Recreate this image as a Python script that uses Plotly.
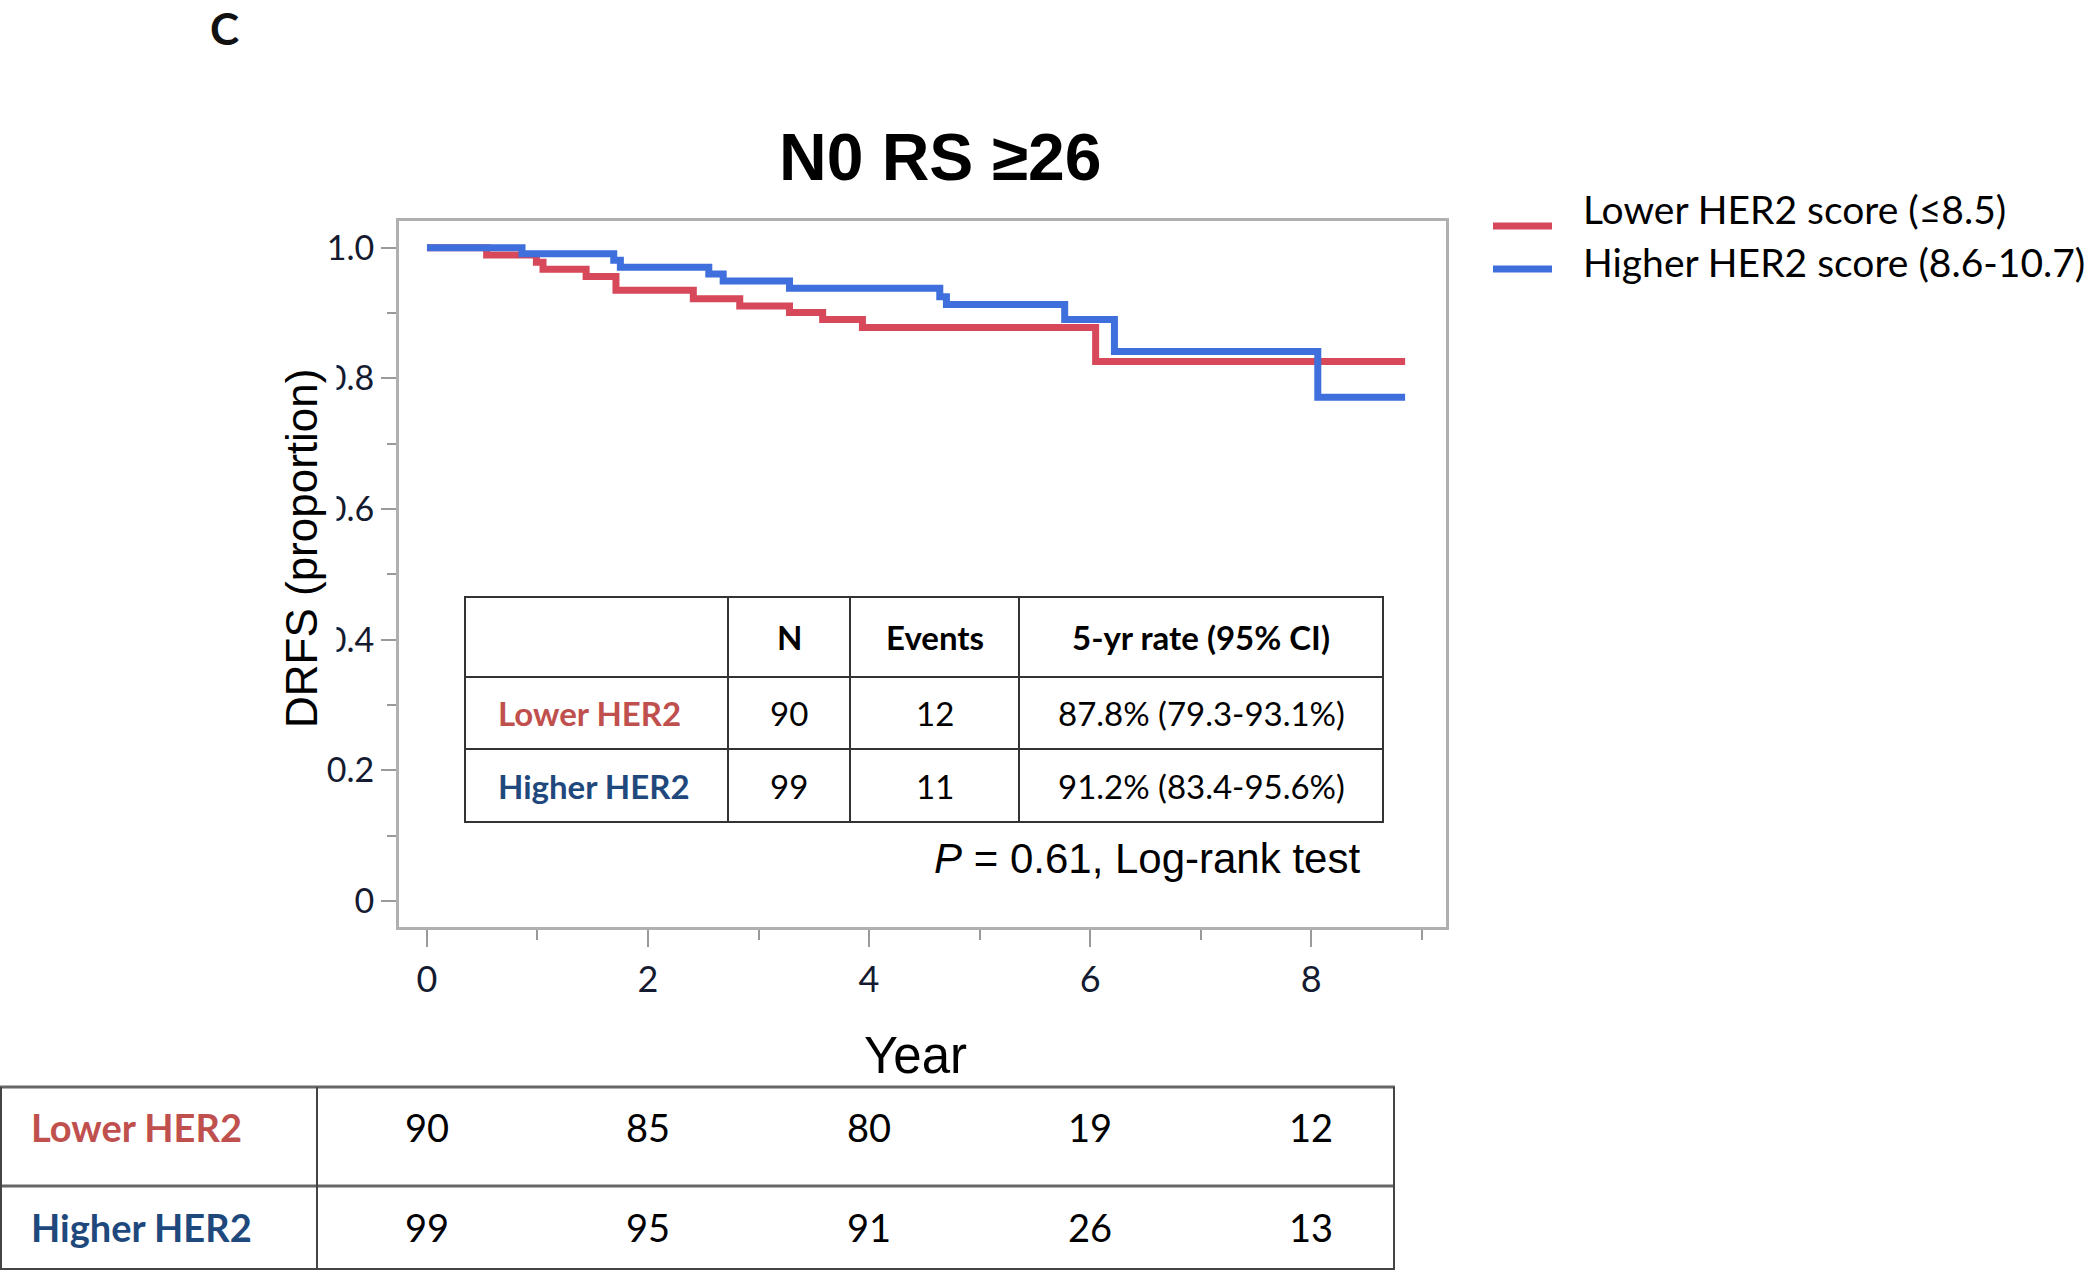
import plotly.graph_objects as go

W, H = 2100, 1271

# Kaplan-Meier step data
lower_time = [0, 0.54, 0.99, 1.05, 1.44, 1.71, 2.41, 2.83, 3.28, 3.58, 3.94, 6.05, 8.85]
lower_surv = [1.0, 0.989, 0.978, 0.967, 0.956, 0.935, 0.922, 0.911, 0.901, 0.890, 0.878, 0.826, 0.826]
higher_time = [0, 0.86, 1.69, 1.75, 2.55, 2.68, 3.28, 4.64, 4.70, 5.77, 6.22, 8.06, 8.85]
higher_surv = [1.0, 0.991, 0.981, 0.970, 0.960, 0.949, 0.938, 0.925, 0.913, 0.890, 0.841, 0.771, 0.771]

group_names = ["Lower HER2 score (≤8.5)", "Higher HER2 score (8.6-10.7)"]
short_names = ["Lower HER2", "Higher HER2"]

# summary table
summary_header = ["", "N", "Events", "5-yr rate (95% CI)"]
summary_n = [90, 99]
summary_events = [12, 11]
summary_rate = ["87.8% (79.3-93.1%)", "91.2% (83.4-95.6%)"]

# number at risk
risk_years = [0, 2, 4, 6, 8]
risk_lower = [90, 85, 80, 19, 12]
risk_higher = [99, 95, 91, 26, 13]

x_ticks = [0, 2, 4, 6, 8]
y_ticks = [0, 0.2, 0.4, 0.6, 0.8, 1.0]
y_ticktext = ["0", "0.2", "0.4", "0.6", "0.8", "1.0"]

RED = "#d6485a"
BLUE = "#3e6fdc"
LABEL_RED = "#c0504d"
LABEL_BLUE = "#1f497d"
CALIBRI = "Lato, 'Open Sans', sans-serif"
ARIAL = "'Liberation Sans', Arial, sans-serif"


def px(x):
    return x / W


def py(y):
    return 1 - y / H


fig = go.Figure()
fig.add_trace(go.Scatter(x=lower_time, y=lower_surv, mode="lines", line_shape="hv",
                         line=dict(color=RED, width=7), name=group_names[0]))
fig.add_trace(go.Scatter(x=higher_time, y=higher_surv, mode="lines", line_shape="hv",
                         line=dict(color=BLUE, width=7), name=group_names[1]))

annotations = []
shapes = []


def text(x, y, s, size, family=CALIBRI, color="#111", xanchor="center", yanchor="middle",
         xref="paper", **kw):
    annotations.append(dict(x=x if xref != "paper" else px(x), y=py(y), xref=xref, yref="paper",
                            text=s, showarrow=False, xanchor=xanchor, yanchor=yanchor,
                            font=dict(size=size, family=family, color=color), **kw))


def hline(x0, x1, y, color="#333", width=2):
    shapes.append(dict(type="line", xref="paper", yref="paper", x0=px(x0), x1=px(x1),
                       y0=py(y), y1=py(y), line=dict(color=color, width=width)))


def vline(x, y0, y1, color="#333", width=2):
    shapes.append(dict(type="line", xref="paper", yref="paper", x0=px(x), x1=px(x),
                       y0=py(y0), y1=py(y1), line=dict(color=color, width=width)))


# panel letter and title
text(224, 0, "<b>C</b>", 44, yanchor="top")
text(940, 157, "<b>N0 RS ≥26</b>", 66, family=ARIAL, color="#000")

# axis titles (white box hides the front of the tick labels as in the original)
text(302, 549, "DRFS (proportion)", 44, family=ARIAL, color="#000", textangle=-90,
     bgcolor="white", borderpad=10)
text(915, 1055, "Year", 51, family=ARIAL, color="#000")

# legend
legend_y = [226, 269]
legend_text_y = [209, 262]
for name, col, ly, ty in zip(group_names, [RED, BLUE], legend_y, legend_text_y):
    hline(1493, 1552, ly, color=col, width=7)
    text(1581, ty, name, 39, color="#000", xanchor="left")

# summary table inside the plot
col_edges = [465, 728, 850, 1019, 1383]
row_edges = [597, 677, 749, 822]
shapes.append(dict(type="rect", xref="paper", yref="paper", x0=px(465), x1=px(1383),
                   y0=py(822), y1=py(597), fillcolor="white", line=dict(color="#333", width=2),
                   layer="above"))
for r in row_edges[1:-1]:
    hline(col_edges[0], col_edges[-1], r)
for c in col_edges[1:-1]:
    vline(c, row_edges[0], row_edges[-1])

col_centers = [(col_edges[i] + col_edges[i + 1]) / 2 for i in range(4)]
row_centers = [(row_edges[i] + row_edges[i + 1]) / 2 for i in range(3)]
for i, h in enumerate(summary_header[1:], start=1):
    text(col_centers[i], row_centers[0], f"<b>{h}</b>", 33, color="#000")
label_colors = [LABEL_RED, LABEL_BLUE]
for j in range(2):
    text(496, row_centers[j + 1], f"<b>{short_names[j]}</b>", 33, color=label_colors[j], xanchor="left")
    text(col_centers[1], row_centers[j + 1], str(summary_n[j]), 33, color="#000")
    text(col_centers[2], row_centers[j + 1], str(summary_events[j]), 33, color="#000")
    text(col_centers[3], row_centers[j + 1], summary_rate[j], 33, color="#000")

text(1362, 858, "<i>P</i> = 0.61, Log-rank test", 42, family=ARIAL, color="#000", xanchor="right")

# number at risk table
hline(0, 1395, 1087, color="#666", width=3)
hline(0, 1395, 1186, color="#666", width=3)
hline(0, 1395, 1269, color="#444", width=2)
vline(1, 1087, 1269, color="#444", width=2)
vline(317, 1087, 1269, color="#444", width=2)
vline(1394, 1087, 1269, color="#444", width=2)
text(29, 1127, f"<b>{short_names[0]}</b>", 38, color=LABEL_RED, xanchor="left")
text(29, 1227, f"<b>{short_names[1]}</b>", 38, color=LABEL_BLUE, xanchor="left")
for yr, a, b in zip(risk_years, risk_lower, risk_higher):
    text(yr, 1127, str(a), 38, color="#000", xref="x")
    text(yr, 1227, str(b), 38, color="#000", xref="x")

axis_common = dict(showline=True, mirror=True, linecolor="#b0b0b0", linewidth=3,
                   ticks="outside", tickcolor="#9a9a9a", tickwidth=2,
                   showgrid=False, zeroline=False)

fig.update_layout(
    width=W, height=H,
    margin=dict(l=0, r=0, t=0, b=0),
    paper_bgcolor="white", plot_bgcolor="white",
    showlegend=False,
    xaxis=dict(domain=[px(399), px(1446)], range=[-0.253, 9.22], tickvals=x_ticks,
               ticklen=17, ticklabelstandoff=2,
               tickfont=dict(size=36, family=CALIBRI, color="#141a30"),
               minor=dict(dtick=1, tick0=0, ticks="outside", ticklen=10,
                          tickcolor="#9a9a9a", tickwidth=2),
               **axis_common),
    yaxis=dict(domain=[py(927), py(221)], range=[-0.04, 1.041], tickvals=y_ticks,
               ticktext=y_ticktext, ticklen=15, ticklabelstandoff=0,
               tickfont=dict(size=34, family=CALIBRI, color="#141a30"),
               minor=dict(dtick=0.1, tick0=0, ticks="outside", ticklen=9,
                          tickcolor="#9a9a9a", tickwidth=2),
               **axis_common),
    annotations=annotations,
    shapes=shapes,
    hovermode=False,
)

fig.write_html("out.html", config={"displayModeBar": False},
               post_script="document.body.style.margin='0';")
